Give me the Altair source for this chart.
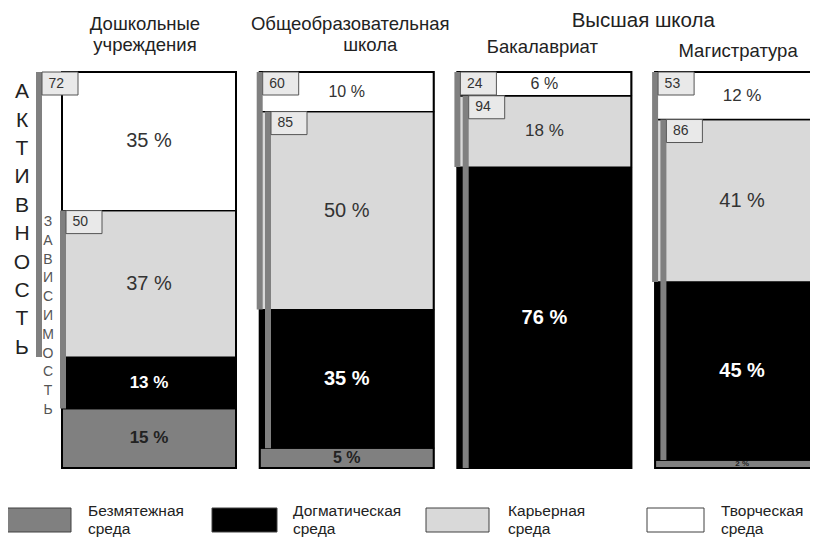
import altair as alt
import pandas as pd

# ---------------- data ----------------
columns = ["Дошкольные учреждения", "Общеобразовательная школа", "Бакалавриат", "Магистратура"]
environments = ["Безмятежная среда", "Догматическая среда", "Карьерная среда", "Творческая среда"]
env_colors = ["#808080", "#000000", "#d9d9d9", "#ffffff"]
serene = [15, 5, 0, 2]        # Безмятежная среда, %
dogmatic = [13, 35, 76, 45]   # Догматическая среда, %
career = [37, 50, 18, 41]     # Карьерная среда, %
creative = [35, 10, 6, 12]    # Творческая среда, %
activity = [72, 60, 24, 53]   # активность
dependence = [50, 85, 94, 86] # зависимость
header_texts = ["Дошкольные", "учреждения", "Общеобразовательная", "школа",
                "Высшая  школа", "Бакалавриат", "Магистратура"]
activity_word = "АКТИВНОСТЬ"
dependence_word = "ЗАВИСИМОСТЬ"

# ---------------- layout (style) ----------------
FONT = "Liberation Sans"
W, H = 802, 529
UNIT = 197.7            # px per column step
PCT = 3.96              # px per percent
X0 = -54 / UNIT
X1 = X0 + W / UNIT
Y1 = 100 + 64 / PCT
Y0 = Y1 - H / PCT
BOX_W = 174 / UNIT
BAR_HALF = 3 / UNIT
TAG_W = 36 / UNIT
TAG_H = 23 / PCT
act_off = [-23 / UNIT, 0, 0, 0]
dep_off = [1 / UNIT, 8.3 / UNIT, 8.3 / UNIT, 8.3 / UNIT]

xs = alt.Scale(domain=[X0, X1], nice=False, zero=False)
ys = alt.Scale(domain=[Y0, Y1], nice=False, zero=False)


def ix(px):   # page pixel -> x units
    return X0 + (px - 8) / UNIT


def iy(py):   # page pixel -> y units
    return Y1 - (py - 8) / PCT


# segments
seg_rows = []
series = [serene, dogmatic, career, creative]
for i, col in enumerate(columns):
    base = 0
    for k, env in enumerate(environments):
        v = series[k][i]
        if v > 0:
            if v < 3:
                fs = 8
            elif v < 12:
                fs = 16
            elif v < 30:
                fs = 17
            else:
                fs = 20
            seg_rows.append({
                "col": col, "env": env, "v": v,
                "x0": i, "x1": i + BOX_W, "xc": i + BOX_W / 2,
                "y0": base, "y1": base + v, "yc": base + v / 2,
                "label": f"{v} %",
                "bold": k in (0, 1),
                "tcolor": "#ffffff" if k == 1 else "#222222" if k == 0 else "#333333",
                "fs": fs,
            })
        base += v
seg = pd.DataFrame(seg_rows)

frame = pd.DataFrame({"x0": [i for i in range(4)], "x1": [i + BOX_W for i in range(4)],
                      "y0": [0] * 4, "y1": [100] * 4})

bar_rows, tag_rows = [], []
for i in range(4):
    ax = i + act_off[i]
    bar_rows.append({"x": ax, "top": 100, "bot": 100 - activity[i]})
    tag_rows.append({"x0": ax + BAR_HALF, "x1": ax + BAR_HALF + TAG_W,
                     "y0": 100 - TAG_H, "y1": 100,
                     "tx": ax + BAR_HALF + 6.5 / UNIT, "ty": 100 - TAG_H / 2,
                     "t": str(activity[i])})
    dx = i + dep_off[i]
    dtop = 100 - creative[i]
    bar_rows.append({"x": dx, "top": dtop, "bot": dtop - dependence[i]})
    tag_rows.append({"x0": dx + BAR_HALF, "x1": dx + BAR_HALF + TAG_W,
                     "y0": dtop - TAG_H, "y1": dtop,
                     "tx": dx + BAR_HALF + 6.5 / UNIT, "ty": dtop - TAG_H / 2,
                     "t": str(dependence[i])})
bars = pd.DataFrame(bar_rows)
tags = pd.DataFrame(tag_rows)

# vertical words: y = position of first letter so that the column of letters is
# centred along its indicator bar
ACT_LH, DEP_LH = 28.4, 18.8
words = pd.DataFrame([
    {"t": "\n".join(activity_word), "x": -40 / UNIT,
     "y": 100 - activity[0] / 2 - 1.4 + (len(activity_word) - 1) * ACT_LH / 2 / PCT},
])
words2 = pd.DataFrame([
    {"t": "\n".join(dependence_word), "x": -14 / UNIT,
     "y": 100 - creative[0] - dependence[0] / 2 - 1.6 + (len(dependence_word) - 1) * DEP_LH / 2 / PCT},
])

C = BOX_W / 2
hdr = pd.DataFrame({
    "t": header_texts,
    "x": [C - 4 / UNIT, C - 4 / UNIT, 1 + C + 3.5 / UNIT, 1 + C + 23.5 / UNIT,
          2.5 + C, 2 + C - 2 / UNIT, 3 + C - 4 / UNIT],
    "y": [iy(29.5), iy(50.5), iy(29.5), iy(50.5), iy(26.7), iy(52.5), iy(56.7)],
    "fs": [18.5, 18.5, 18.5, 18.5, 20.5, 18.5, 18.5],
})

# legend (drawn as marks, coloured through the same colour scale)
LEG_LEFT = [7, 212, 426, 647]
LEG_WID = [64, 65, 63, 57]
LEG_TEXT = [88, 293, 508, 721]
LEG_TOP, LEG_BOT = 508, 532
leg = pd.DataFrame({
    "env": environments,
    "x0": [ix(l) for l in LEG_LEFT],
    "x1": [ix(l + w) for l, w in zip(LEG_LEFT, LEG_WID)],
    "y0": [iy(LEG_BOT)] * 4, "y1": [iy(LEG_TOP)] * 4,
    "tx": [ix(t) for t in LEG_TEXT],
    "ty": [iy(516)] * 4,
    "t": [e.replace(" ", "\n") for e in environments],
})

# ---------------- chart ----------------
color = alt.Color("env:N", scale=alt.Scale(domain=environments, range=env_colors), legend=None)

segments = alt.Chart(seg).mark_rect(stroke="#000000", strokeWidth=1.3).encode(
    x=alt.X("x0:Q", scale=xs, axis=None), x2="x1:Q",
    y=alt.Y("y0:Q", scale=ys, axis=None), y2="y1:Q",
    color=color,
)

frames = alt.Chart(frame).mark_rect(fillOpacity=0, stroke="#000000", strokeWidth=2).encode(
    x="x0:Q", x2="x1:Q", y="y0:Q", y2="y1:Q")

rules = alt.Chart(bars).mark_rule(color="#808080", strokeWidth=6, strokeCap="butt").encode(
    x="x:Q", y="top:Q", y2="bot:Q")

tag_boxes = alt.Chart(tags).mark_rect(fill="#e9e9e9", stroke="#555555", strokeWidth=1).encode(
    x="x0:Q", x2="x1:Q", y="y0:Q", y2="y1:Q")

tag_text = alt.Chart(tags).mark_text(font=FONT, fontSize=14, color="#333333",
                                     align="left", baseline="middle").encode(
    x="tx:Q", y="ty:Q", text="t:N")

pct_normal = alt.Chart(seg).transform_filter("!datum.bold").mark_text(
    font=FONT, baseline="middle").encode(
    x="xc:Q", y="yc:Q", text="label:N",
    color=alt.Color("tcolor:N", scale=None), size=alt.Size("fs:Q", scale=None))

pct_bold = alt.Chart(seg).transform_filter("datum.bold").mark_text(
    font=FONT, fontWeight="bold", baseline="middle").encode(
    x="xc:Q", y="yc:Q", text="label:N",
    color=alt.Color("tcolor:N", scale=None), size=alt.Size("fs:Q", scale=None))

act_word = alt.Chart(words).mark_text(font=FONT, fontSize=21, lineHeight=ACT_LH, lineBreak="\n",
                                      color="#222222", baseline="middle").encode(
    x="x:Q", y="y:Q", text="t:N")

dep_word = alt.Chart(words2).mark_text(font=FONT, fontSize=14, lineHeight=DEP_LH, lineBreak="\n",
                                       color="#555555", baseline="middle").encode(
    x="x:Q", y="y:Q", text="t:N")

headers = alt.Chart(hdr).mark_text(font=FONT, color="#222222", baseline="alphabetic").encode(
    x="x:Q", y="y:Q", text="t:N", size=alt.Size("fs:Q", scale=None))

leg_boxes = alt.Chart(leg).mark_rect(stroke="#404040", strokeWidth=1).encode(
    x="x0:Q", x2="x1:Q", y="y0:Q", y2="y1:Q", color=color)

leg_text = alt.Chart(leg).mark_text(font=FONT, fontSize=15.5, lineHeight=18, lineBreak="\n",
                                    color="#222222", align="left", baseline="alphabetic").encode(
    x="tx:Q", y="ty:Q", text="t:N")

chart = alt.layer(
    segments, frames, rules, tag_boxes, tag_text, pct_normal, pct_bold,
    act_word, dep_word, headers, leg_boxes, leg_text
).properties(
    width=W, height=H, padding=0,
    autosize=alt.AutoSizeParams(type="none"),
).configure_view(stroke=None)

chart.save("out.html", embed_options={"renderer": "svg", "actions": False})
